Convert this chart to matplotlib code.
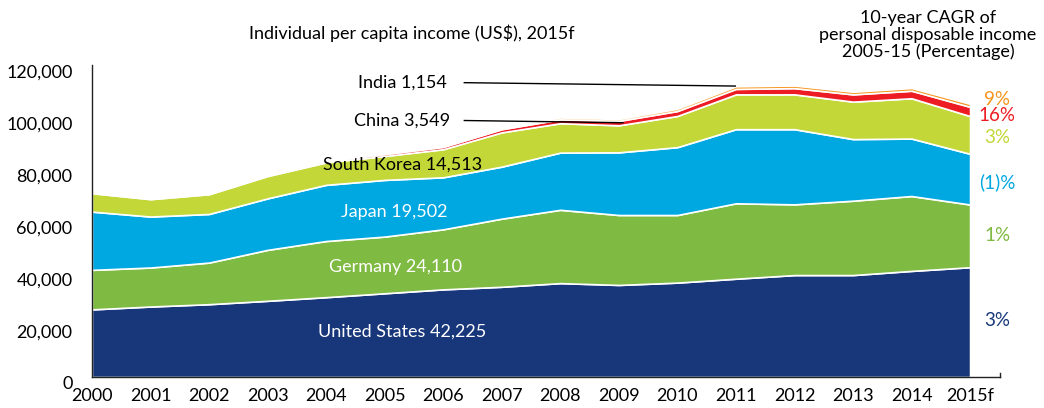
import matplotlib
matplotlib.use("Agg")
import matplotlib.pyplot as plt
import matplotlib.transforms as mtransforms

plt.rcParams['font.family'] = ['Lato', 'DejaVu Sans']

# per capita income by country (US$), stacked
years = [2000, 2001, 2002, 2003, 2004, 2005, 2006, 2007,
         2008, 2009, 2010, 2011, 2012, 2013, 2014, 2015]
year_labels = [str(y) for y in years[:-1]] + ['2015f']

us = [26000, 27100, 28000, 29300, 30700, 32200, 33700, 34700,
      36100, 35400, 36300, 37800, 39200, 39200, 40800, 42225]
germany = [15200, 15000, 16000, 19600, 21600, 21800, 23100, 26200,
           28200, 26900, 26000, 29000, 27200, 28600, 28800, 24110]
japan = [22400, 19600, 18700, 19800, 21600, 21800, 20000, 20000,
         22000, 24100, 26100, 28500, 28900, 23700, 22100, 19502]
south_korea = [7100, 6700, 7600, 8600, 8650, 9200, 10800, 13200,
               11300, 10400, 12000, 13400, 13400, 14400, 15500, 14513]
china = [350, 380, 420, 500, 600, 750, 900, 1200,
         1500, 1700, 1900, 2100, 2400, 2800, 2900, 3549]
india = [250, 260, 270, 300, 350, 400, 450, 600,
         700, 700, 850, 1000, 1000, 1000, 1050, 1154]

# 10-year CAGR 2005-15, top to bottom
cagr_text = ['9%', '16%', '3%', '(1)%', '1%', '3%']
cagr_y = [106800, 100600, 92000, 75100, 54300, 21900]

c_us = '#17377a'
c_ger = '#7fba42'
c_jpn = '#00a8e1'
c_kor = '#c3d838'
c_chn = '#ed1c24'
c_ind = '#f7941d'
cagr_colors = [c_ind, c_chn, c_kor, c_jpn, c_ger, c_us]

fig = plt.figure(figsize=(10.44, 4.08), dpi=100)
ax = fig.add_axes([0.0881, 0.076, 0.8697, 0.7647])

ax.stackplot(years, us, germany, japan, south_korea, china, india,
             colors=[c_us, c_ger, c_jpn, c_kor, c_chn, c_ind],
             edgecolor='white', linewidth=1.2)

ax.set_xlim(2000, 2015.51)
ax.set_ylim(0, 120000)

ax.set_xticks(years)
ax.set_xticklabels(year_labels, fontsize=13)
ax.set_yticks(range(0, 120001, 20000))
ax.set_yticklabels([f'{v:,}' for v in range(0, 120001, 20000)], fontsize=13)
ax.tick_params(length=0)
ax.tick_params(axis='x', pad=8)
ax.tick_params(axis='y', pad=14)

# y labels sit a little lower than their gridline
shift = mtransforms.ScaledTranslation(0, -0.057, fig.dpi_scale_trans)
for lab in ax.get_yticklabels():
    lab.set_transform(lab.get_transform() + shift)

ax.spines['top'].set_visible(False)
ax.spines['right'].set_bounds(0, 1500)
for s in ['left', 'bottom', 'right']:
    ax.spines[s].set_color('#222222')
    ax.spines[s].set_linewidth(1.0)

# series labels
ax.text(2005.30, 17400, f'United States {us[-1]:,}', color='white',
        fontsize=13, ha='center', va='center')
ax.text(2005.19, 42200, f'Germany {germany[-1]:,}', color='white',
        fontsize=13, ha='center', va='center')
ax.text(2005.17, 63600, f'Japan {japan[-1]:,}', color='white',
        fontsize=13, ha='center', va='center')
ax.text(2005.30, 81500, f'South Korea {south_korea[-1]:,}', color='black',
        fontsize=13, ha='center', va='center')
ax.text(2005.30, 98600, f'China {china[-1]:,}', color='black',
        fontsize=13, ha='center', va='center')
ax.text(2005.30, 113200, f'India {india[-1]:,}', color='black',
        fontsize=13, ha='center', va='center')

# leader lines for the thin layers
ax.plot([2006.36, 2009.07], [98650, 97800], color='black', lw=1.0)
ax.plot([2006.36, 2010.99], [113200, 111900], color='black', lw=1.0)

for t, y, c in zip(cagr_text, cagr_y, cagr_colors):
    ax.text(2015.46, y, t, color=c, fontsize=13.5, ha='center', va='center',
            clip_on=False)

fig.text(412 / 1044, 1 - 33 / 408, 'Individual per capita income (US$), 2015f',
         fontsize=13, ha='center', va='center')
fig.text(928 / 1044, 1 - 35 / 408,
         '10-year CAGR of\npersonal disposable income\n2005-15 (Percentage)',
         fontsize=13, ha='center', va='center', linespacing=1.05)

fig.savefig('out.png', dpi=100)
